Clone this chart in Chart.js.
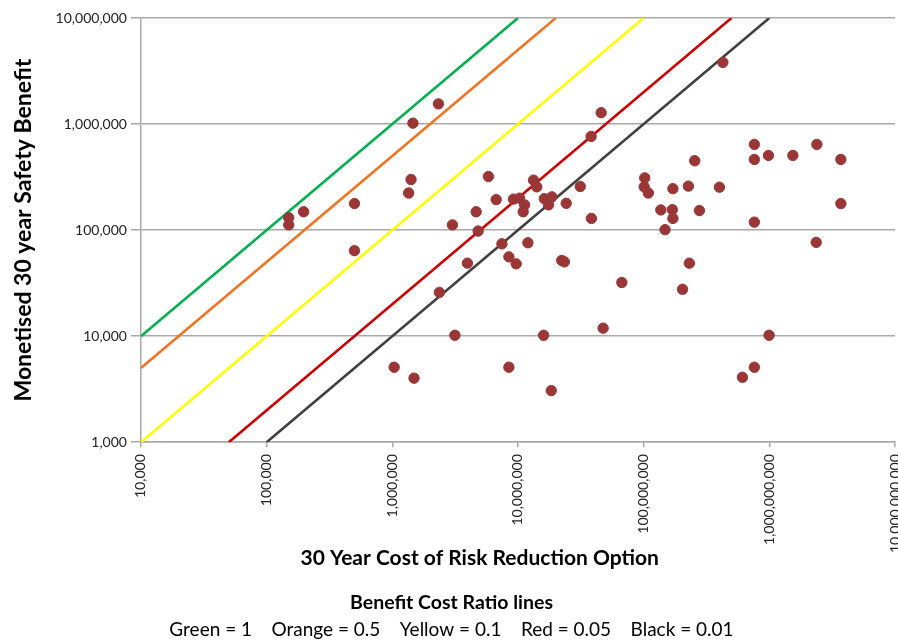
<!DOCTYPE html>
<html>
<head>
<meta charset="utf-8">
<script src="https://cdn.jsdelivr.net/npm/chart.js@4/dist/chart.umd.min.js"></script>
<style>
    body { margin: 0; background: #ffffff; }
    #wrap { width: 898px; height: 641px; }
</style>
</head>
<body>
<div id="wrap"><canvas id="bcrChart" width="898" height="641"></canvas></div>
<script>
// 30 year cost of each risk reduction option
const custos = [
    150000, 150000, 197000, 500000, 500000, 1460000, 1410000, 1350000, 2330000, 2370000,
    3010000, 3150000, 3960000, 4650000, 4820000, 5820000, 6710000, 7450000, 8470000, 8470000,
    9210000, 9680000, 10300000, 11300000, 11000000, 12000000, 13300000, 14100000, 16000000, 16200000,
    17500000, 18600000, 18400000, 22300000, 23400000, 24200000, 31300000, 38200000, 38400000, 45900000,
    47600000, 67100000, 102000000, 101000000, 109000000, 137000000, 148000000, 171000000, 169000000, 171000000,
    204000000, 227000000, 231000000, 255000000, 278000000, 401000000, 427000000, 611000000, 760000000, 760000000,
    760000000, 760000000, 984000000, 996000000, 1540000000, 2390000000, 2360000000, 3710000000, 3710000000, 1035000,
    1490000
];

// monetised 30 year safety benefit for the same options
const beneficios = [
    131000, 112000, 149000, 178000, 64000, 1020000, 300000, 224000, 1550000, 25900,
    112000, 10200, 48800, 149000, 98000, 320000, 194000, 74300, 56000, 5100,
    196000, 48100, 200000, 173000, 149000, 76000, 296000, 256000, 10200, 198000,
    173000, 206000, 3070, 51800, 50200, 179000, 258000, 765000, 129000, 1280000,
    11900, 32100, 311000, 256000, 224000, 155000, 101000, 246000, 156000, 129000,
    27700, 260000, 48800, 451000, 153000, 254000, 3810000, 4100, 643000, 464000,
    119000, 5100, 506000, 10200, 506000, 643000, 76700, 464000, 178000, 5100,
    4020
];

// benefit cost ratio lines, as drawn (start and end point of each)
const nomesLinhas = ['Green', 'Orange', 'Yellow', 'Red', 'Black'];
const custoInicio = [10000, 10000, 10000, 50000, 100000];
const beneficioInicio = [10000, 5000, 1000, 1000, 1000];
const custoFim = [10000000, 20000000, 100000000, 500000000, 1000000000];
const beneficioFim = [10000000, 10000000, 10000000, 10000000, 10000000];

const ticksX = [1e4, 1e5, 1e6, 1e7, 1e8, 1e9, 1e10];
const ticksY = [1e3, 1e4, 1e5, 1e6, 1e7];

const coresLinhas = ['#00b050', '#f07522', '#ffff00', '#cc0000', '#404040'];
const corGrade = '#a9a9a9';
const fonte = "Lato, 'Open Sans', sans-serif";

const pontos = custos.map((c, i) => ({ x: c, y: beneficios[i] }));

const datasets = [{
    label: 'Options',
    data: pontos,
    backgroundColor: '#9a3636',
    borderColor: '#9a3636',
    pointRadius: 5.2,
    pointHoverRadius: 5.2,
    showLine: false,
    order: 0
}];

nomesLinhas.forEach((nome, i) => {
    datasets.push({
        label: nome,
        data: [
            { x: custoInicio[i], y: beneficioInicio[i] },
            { x: custoFim[i], y: beneficioFim[i] }
        ],
        borderColor: coresLinhas[i],
        backgroundColor: coresLinhas[i],
        borderWidth: 2.6,
        pointRadius: 0,
        showLine: true,
        order: 1
    });
});

function formatar(v) {
    return Number(v).toLocaleString('en-US');
}

const ctx = document.getElementById('bcrChart').getContext('2d');
new Chart(ctx, {
    type: 'scatter',
    data: { datasets: datasets },
    options: {
        responsive: false,
        animation: false,
        layout: {
            autoPadding: false,
            padding: { top: 18, right: 3, bottom: 0, left: 8 }
        },
        scales: {
            x: {
                type: 'logarithmic',
                min: 1e4,
                max: 1e10,
                afterBuildTicks: (eixo) => { eixo.ticks = ticksX.map(v => ({ value: v })); },
                // o último rótulo fica cortado na borda, como no original
                afterFit: (eixo) => { eixo.paddingRight = 0; eixo.paddingLeft = 0; },
                ticks: {
                    callback: formatar,
                    minRotation: 90,
                    maxRotation: 90,
                    autoSkip: false,
                    padding: 7,
                    color: '#222222',
                    font: { family: fonte, size: 14 }
                },
                grid: {
                    drawOnChartArea: false,
                    tickLength: 5,
                    color: corGrade,
                    lineWidth: 1.5
                },
                border: { color: corGrade, width: 1.5 },
                title: {
                    display: true,
                    text: '30 Year Cost of Risk Reduction Option               ',
                    color: '#000000',
                    font: { family: fonte, size: 21, weight: 'bold' },
                    padding: { top: -14, bottom: 6 }
                }
            },
            y: {
                type: 'logarithmic',
                min: 1e3,
                max: 1e7,
                afterBuildTicks: (eixo) => { eixo.ticks = ticksY.map(v => ({ value: v })); },
                ticks: {
                    callback: formatar,
                    padding: 4,
                    color: '#222222',
                    font: { family: fonte, size: 14 }
                },
                grid: {
                    color: corGrade,
                    lineWidth: 1.5,
                    tickLength: 10
                },
                border: { color: corGrade, width: 1.5 },
                title: {
                    display: true,
                    text: 'Monetised 30 year Safety Benefit',
                    color: '#000000',
                    font: { family: fonte, size: 23, weight: 'bold' },
                    padding: { top: 2, bottom: 14 }
                }
            }
        },
        plugins: {
            legend: { display: false },
            tooltip: { enabled: false },
            subtitle: {
                display: true,
                position: 'bottom',
                text: 'Benefit Cost Ratio lines',
                color: '#000000',
                font: { family: fonte, size: 19.5, weight: 'bold' },
                padding: { top: 14, bottom: 0 }
            },
            title: {
                display: true,
                position: 'bottom',
                text: 'Green = 1    Orange = 0.5    Yellow = 0.1    Red = 0.05    Black = 0.01',
                color: '#000000',
                font: { family: fonte, size: 19, weight: 'normal' },
                padding: { top: 3.5, bottom: 0 }
            }
        }
    }
});
</script>
</body>
</html>
